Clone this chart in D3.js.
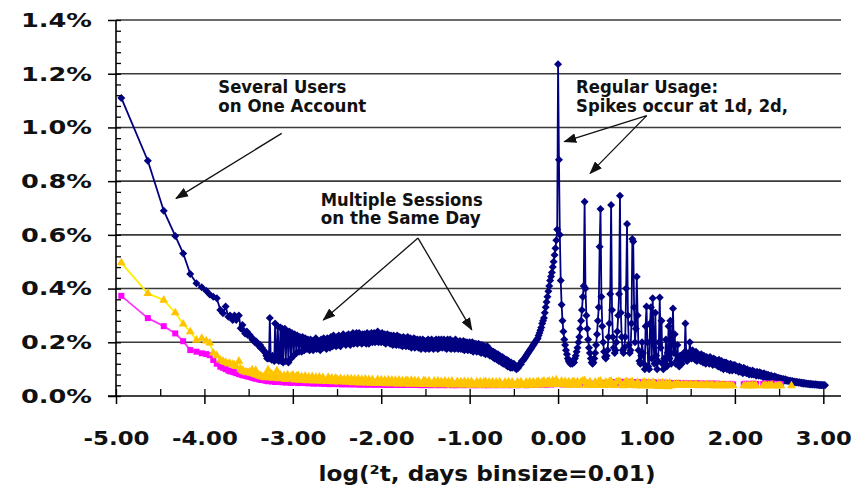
<!DOCTYPE html>
<html>
<head>
<meta charset="utf-8">
<script src="https://cdn.jsdelivr.net/npm/d3@7"></script>
<style>
  html, body { margin: 0; padding: 0; background: #fff; }
  svg { display: block; }
</style>
</head>
<body>
<svg id="chart" width="866" height="489"></svg>
<script>
// ---------------------------------------------------------------
// Inter-session time distribution, log10(Δt in days), bin size 0.01
// ---------------------------------------------------------------

// Bins below about -3.3 hold single whole seconds (1 s ... 42 s)
const secondBins = [-4.94, -4.64, -4.46, -4.33, -4.24, -4.16, -4.09, -4.03, -3.98, -3.94,
  -3.90, -3.86, -3.82, -3.79, -3.76, -3.73, -3.71, -3.68, -3.66, -3.64,
  -3.61, -3.59, -3.57, -3.56, -3.54, -3.52, -3.51, -3.49, -3.47, -3.46,
  -3.45, -3.43, -3.42, -3.41, -3.39, -3.38, -3.37, -3.36, -3.35, -3.33,
  -3.32, -3.31];

// share of sessions (%) in those bins
const navySeconds = [1.11, 0.876, 0.69, 0.596, 0.531, 0.454, 0.42, 0.405, 0.392, 0.378,
  0.37, 0.364, 0.32, 0.308, 0.333, 0.295, 0.30, 0.283, 0.30, 0.283,
  0.30, 0.252, 0.264, 0.245, 0.233, 0.24, 0.227, 0.228, 0.22, 0.212,
  0.208, 0.2, 0.205, 0.2, 0.19, 0.185, 0.19, 0.178, 0.18, 0.17,
  0.165, 0.16];
const magentaSeconds = [0.373, 0.29, 0.26, 0.233, 0.204, 0.171, 0.165, 0.159, 0.156, 0.152,
  0.134, 0.12, 0.109, 0.105, 0.1, 0.095, 0.092, 0.09, 0.088, 0.085,
  0.082, 0.08, 0.078, 0.077, 0.076, 0.074, 0.073, 0.072, 0.07, 0.069,
  0.068, 0.066, 0.065, 0.066, 0.063, 0.062, 0.063, 0.06, 0.061, 0.059,
  0.06, 0.058];
const yellowSeconds = [0.496, 0.382, 0.357, 0.31, 0.268, 0.239, 0.208, 0.215, 0.205, 0.198,
  0.16, 0.15, 0.134, 0.13, 0.125, 0.12, 0.121, 0.118, 0.115, 0.11,
  0.13, 0.1, 0.095, 0.092, 0.09, 0.088, 0.087, 0.09, 0.085, 0.097,
  0.083, 0.08, 0.095, 0.078, 0.077, 0.076, 0.075, 0.074, 0.072, 0.07,
  0.072, 0.068];

// Navy series, every 0.01 bin from -3.30 to 3.02
const navyFrom = -3.30, navyStep = 0.01;
const navyBins = [
  0.15, 0.14, 0.155, 0.14, 0.29, 0.145, 0.135, 0.15, 0.14, 0.13,        // -3.30
  0.27, 0.135, 0.14, 0.26, 0.13, 0.135, 0.255, 0.13, 0.25, 0.125,       // -3.20
  0.245, 0.25, 0.13, 0.24, 0.235, 0.125, 0.24, 0.23, 0.14, 0.235,       // -3.10
  0.225, 0.15, 0.23, 0.22, 0.16, 0.225, 0.21, 0.165, 0.22, 0.2,         // -3.00
  0.165, 0.22, 0.185, 0.17, 0.215, 0.2, 0.175, 0.21, 0.19, 0.17,        // -2.90
  0.21, 0.18, 0.205, 0.17, 0.2, 0.185, 0.215, 0.175, 0.205, 0.18,       // -2.80
  0.2, 0.17, 0.21, 0.185, 0.18, 0.215, 0.185, 0.205, 0.175, 0.215,      // -2.70
  0.19, 0.21, 0.18, 0.22, 0.195, 0.185, 0.225, 0.195, 0.21, 0.185,      // -2.60
  0.22, 0.19, 0.225, 0.2, 0.185, 0.22, 0.195, 0.23, 0.2, 0.215,         // -2.50
  0.19, 0.225, 0.2, 0.23, 0.205, 0.19, 0.225, 0.205, 0.235, 0.195,      // -2.40
  0.225, 0.2, 0.235, 0.195, 0.22, 0.235, 0.2, 0.225, 0.195, 0.23,       // -2.30
  0.2, 0.23, 0.21, 0.195, 0.235, 0.21, 0.195, 0.23, 0.205, 0.235,       // -2.20
  0.2, 0.225, 0.235, 0.2, 0.23, 0.205, 0.24, 0.2, 0.23, 0.21,           // -2.10
  0.2, 0.235, 0.205, 0.2, 0.23, 0.195, 0.225, 0.23, 0.2, 0.225,         // -2.00
  0.195, 0.225, 0.2, 0.19, 0.225, 0.195, 0.22, 0.19, 0.225, 0.195,      // -1.90
  0.19, 0.22, 0.19, 0.215, 0.185, 0.22, 0.19, 0.215, 0.185, 0.21,       // -1.80
  0.22, 0.185, 0.21, 0.215, 0.18, 0.21, 0.185, 0.215, 0.18, 0.21,       // -1.70
  0.185, 0.21, 0.18, 0.205, 0.21, 0.175, 0.205, 0.21, 0.18, 0.205,      // -1.60
  0.175, 0.205, 0.18, 0.21, 0.175, 0.205, 0.18, 0.21, 0.18, 0.175,      // -1.50
  0.205, 0.18, 0.21, 0.2, 0.175, 0.21, 0.18, 0.205, 0.21, 0.18,         // -1.40
  0.205, 0.21, 0.18, 0.2, 0.175, 0.21, 0.2, 0.18, 0.21, 0.175,          // -1.30
  0.205, 0.18, 0.2, 0.175, 0.21, 0.18, 0.2, 0.175, 0.185, 0.205,        // -1.20
  0.175, 0.2, 0.175, 0.205, 0.17, 0.2, 0.175, 0.2, 0.17, 0.195,         // -1.10
  0.2, 0.17, 0.195, 0.2, 0.165, 0.195, 0.17, 0.195, 0.165, 0.19,        // -1.00
  0.195, 0.165, 0.19, 0.16, 0.19, 0.165, 0.16, 0.185, 0.155, 0.18,      // -0.90
  0.185, 0.155, 0.175, 0.15, 0.17, 0.155, 0.145, 0.165, 0.14, 0.16,     // -0.80
  0.155, 0.135, 0.155, 0.13, 0.15, 0.13, 0.125, 0.145, 0.12, 0.14,      // -0.70
  0.135, 0.115, 0.135, 0.11, 0.13, 0.11, 0.105, 0.125, 0.105, 0.115,    // -0.60
  0.12, 0.105, 0.112, 0.1, 0.11, 0.105, 0.115, 0.12, 0.118, 0.13,       // -0.50
  0.13, 0.135, 0.14, 0.145, 0.15, 0.155, 0.16, 0.165, 0.17, 0.175,      // -0.40
  0.18, 0.185, 0.19, 0.195, 0.2, 0.205, 0.21, 0.215, 0.225, 0.235,      // -0.30
  0.245, 0.255, 0.27, 0.28, 0.29, 0.31, 0.33, 0.35, 0.37, 0.39,         // -0.20
  0.41, 0.43, 0.445, 0.46, 0.48, 0.5, 0.525, 0.55, 0.58, 0.62,          // -0.10
  1.235, 0.88, 0.6, 0.43, 0.34, 0.28, 0.24, 0.21, 0.19, 0.17,           //  0.00
  0.155, 0.14, 0.13, 0.125, 0.12, 0.125, 0.12, 0.13, 0.125, 0.14,       //  0.10
  0.15, 0.165, 0.18, 0.2, 0.22, 0.25, 0.28, 0.32, 0.37, 0.41,           //  0.20
  0.723, 0.4, 0.3, 0.25, 0.21, 0.18, 0.16, 0.14, 0.125, 0.12,           //  0.30
  0.125, 0.14, 0.16, 0.19, 0.23, 0.28, 0.33, 0.556, 0.696, 0.37,        //  0.40
  0.26, 0.2, 0.165, 0.145, 0.14, 0.15, 0.17, 0.22, 0.27, 0.38,          //  0.50
  0.711, 0.32, 0.22, 0.18, 0.16, 0.17, 0.2, 0.24, 0.3, 0.38,            //  0.60
  0.746, 0.31, 0.22, 0.17, 0.16, 0.18, 0.22, 0.4, 0.64, 0.3,            //  0.70
  0.19, 0.16, 0.17, 0.27, 0.585, 0.575, 0.33, 0.2, 0.25, 0.444,         //  0.80
  0.3, 0.17, 0.13, 0.12, 0.15, 0.2, 0.16, 0.12, 0.1, 0.26,              //  0.90
  0.333, 0.2, 0.11, 0.1, 0.27, 0.33, 0.14, 0.364, 0.2, 0.12,            //  1.00
  0.31, 0.15, 0.1, 0.13, 0.2, 0.367, 0.18, 0.28, 0.12, 0.1,             //  1.10
  0.14, 0.13, 0.21, 0.11, 0.16, 0.26, 0.14, 0.28, 0.12, 0.2,            //  1.20
  0.326, 0.16, 0.23, 0.12, 0.13, 0.19, 0.14, 0.11, 0.15, 0.13,          //  1.30
  0.12, 0.14, 0.16, 0.14, 0.27, 0.15, 0.13, 0.16, 0.14, 0.2,            //  1.40
  0.16, 0.14, 0.17, 0.145, 0.16, 0.135, 0.165, 0.13, 0.155, 0.14,       //  1.50
  0.15, 0.13, 0.155, 0.14, 0.125, 0.15, 0.14, 0.12, 0.145, 0.13,        //  1.60
  0.14, 0.12, 0.145, 0.125, 0.135, 0.115, 0.14, 0.12, 0.135, 0.115,     //  1.70
  0.13, 0.11, 0.135, 0.12, 0.105, 0.13, 0.115, 0.1, 0.125, 0.11,        //  1.80
  0.125, 0.1, 0.12, 0.11, 0.095, 0.12, 0.105, 0.095, 0.115, 0.1,        //  1.90
  0.115, 0.095, 0.11, 0.1, 0.09, 0.11, 0.09, 0.105, 0.095, 0.085,       //  2.00
  0.105, 0.09, 0.1, 0.085, 0.1, 0.09, 0.08, 0.095, 0.085, 0.08,         //  2.10
  0.095, 0.08, 0.09, 0.085, 0.075, 0.09, 0.08, 0.075, 0.088, 0.075,     //  2.20
  0.085, 0.075, 0.07, 0.085, 0.072, 0.07, 0.08, 0.066, 0.078, 0.07,     //  2.30
  0.066, 0.076, 0.065, 0.072, 0.062, 0.074, 0.062, 0.07, 0.06, 0.068,   //  2.40
  0.064, 0.066, 0.062, 0.064, 0.06, 0.063, 0.058, 0.062, 0.057, 0.06,   //  2.50
  0.056, 0.058, 0.055, 0.057, 0.053, 0.056, 0.052, 0.054, 0.05, 0.053,  //  2.60
  0.05, 0.052, 0.049, 0.051, 0.048, 0.05, 0.047, 0.049, 0.046, 0.048,   //  2.70
  0.046, 0.047, 0.045, 0.046, 0.044, 0.046, 0.043, 0.045, 0.043, 0.044, //  2.80
  0.042, 0.044, 0.042, 0.043, 0.041, 0.042, 0.04, 0.042, 0.04, 0.041,   //  2.90
  0.04, 0.041, 0.04                                                     //  3.00
];

// Magenta and yellow series, every other 0.01 bin from -3.30 (null = empty bin)
const pairFrom = -3.30, pairStep = 0.02;
const magentaBins = [
  0.057, 0.055, 0.062, 0.054, 0.056, 0.052, 0.058, 0.053, 0.055, 0.051, // -3.30
  0.054, 0.05, 0.053, 0.051, 0.049, 0.053, 0.05, 0.052, 0.048, 0.051,   // -3.10
  0.049, 0.051, 0.048, 0.05, 0.047, 0.049, 0.048, 0.046, 0.049, 0.047,  // -2.90
  0.048, 0.046, 0.048, 0.045, 0.047, 0.046, 0.044, 0.047, 0.045, 0.046, // -2.70
  0.044, 0.046, 0.045, 0.043, 0.046, 0.044, 0.045, 0.043, 0.045, 0.044, // -2.50
  0.043, 0.045, 0.044, 0.042, 0.045, 0.043, 0.044, 0.042, 0.044, 0.043, // -2.30
  0.044, 0.042, 0.043, 0.045, 0.042, 0.044, 0.043, 0.041, 0.044, 0.042, // -2.10
  0.043, 0.041, 0.044, 0.042, 0.043, 0.041, 0.042, 0.044, 0.041, 0.043, // -1.90
  0.042, 0.043, 0.041, 0.042, 0.044, 0.041, 0.043, 0.042, 0.04, 0.043,  // -1.70
  0.041, 0.043, 0.042, 0.04, 0.043, 0.041, 0.042, 0.04, 0.042, 0.041,   // -1.50
  0.042, 0.04, 0.043, 0.041, 0.042, 0.04, 0.041, 0.043, 0.04, 0.042,    // -1.30
  0.041, 0.043, 0.04, 0.042, 0.041, 0.043, 0.04, 0.042, 0.041, 0.04,    // -1.10
  0.042, 0.041, 0.043, 0.04, 0.042, 0.041, 0.04, 0.043, 0.041, 0.042,   // -0.90
  0.04, 0.042, 0.041, 0.043, 0.04, 0.042, 0.041, 0.043, 0.04, 0.042,    // -0.70
  0.041, 0.043, 0.04, 0.042, 0.041, 0.043, 0.042, 0.04, 0.043, 0.041,   // -0.50
  0.042, 0.044, 0.041, 0.043, 0.042, 0.044, 0.043, 0.045, 0.042, 0.044, // -0.30
  0.045, 0.043, 0.047, 0.044, 0.05, 0.046, 0.044, 0.046, 0.043, 0.045,  // -0.10
  0.044, 0.046, 0.043, 0.045, 0.047, 0.044, 0.046, 0.043, 0.045, 0.048, //  0.10
  0.05, 0.045, 0.043, 0.046, 0.044, 0.042, 0.045, 0.043, 0.047, 0.049,  //  0.30
  0.045, 0.048, 0.046, 0.05, 0.047, 0.052, 0.048, 0.051, 0.049, 0.053,  //  0.50
  0.05, 0.053, 0.048, 0.052, 0.05, 0.053, 0.049, 0.052, 0.05, 0.048,    //  0.70
  0.051, 0.049, 0.047, 0.05, 0.052, 0.048, 0.05, 0.047, 0.049, 0.051,   //  0.90
  0.048, 0.046, 0.049, 0.047, 0.05, 0.046, 0.048, 0.045, 0.049, 0.047,  //  1.10
  0.045, 0.048, 0.046, 0.049, 0.045, 0.047, 0.044, 0.048, 0.046, 0.045, //  1.30
  0.047, 0.044, 0.046, 0.048, 0.045, 0.043, 0.047, 0.045, 0.044, 0.046, //  1.50
  0.043, 0.045, 0.047, 0.044, 0.042, 0.046, 0.044, 0.043, 0.045, 0.042, //  1.70
  0.044, 0.045, 0.043, 0.045, 0.043, null, null, null, null, null,      //  1.90
  0.044, 0.046, 0.043, 0.045, 0.044, 0.046, 0.043, 0.045, null, null,   //  2.10
  null, 0.045, 0.047, 0.044, 0.046, 0.045, 0.047, null, 0.044, 0.043,   //  2.30
  0.045, 0.044, null, null, null, null, null, null, null                //  2.50
];
const yellowBins = [
  0.078, 0.097, 0.068, 0.082, 0.066, 0.078, 0.094, 0.064, 0.078, 0.067, // -3.30
  0.076, 0.062, 0.079, 0.064, 0.074, 0.078, 0.06, 0.073, 0.076, 0.059,  // -3.10
  0.072, 0.059, 0.074, 0.057, 0.07, 0.058, 0.072, 0.056, 0.069, 0.057,  // -2.90
  0.07, 0.055, 0.068, 0.056, 0.054, 0.069, 0.055, 0.067, 0.053, 0.066,  // -2.70
  0.064, 0.052, 0.066, 0.054, 0.063, 0.051, 0.065, 0.052, 0.064, 0.05,  // -2.50
  0.063, 0.051, 0.064, 0.049, 0.062, 0.05, 0.063, 0.049, 0.061, 0.048,  // -2.30
  0.061, 0.049, 0.047, 0.061, 0.048, 0.06, 0.047, 0.059, 0.046, 0.06,   // -2.10
  0.047, 0.059, 0.046, 0.058, 0.045, 0.059, 0.046, 0.057, 0.045, 0.058, // -1.90
  0.056, 0.044, 0.058, 0.045, 0.057, 0.044, 0.056, 0.045, 0.043, 0.057, // -1.70
  0.055, 0.043, 0.056, 0.044, 0.042, 0.055, 0.043, 0.056, 0.042, 0.054, // -1.50
  0.043, 0.055, 0.042, 0.054, 0.041, 0.055, 0.043, 0.042, 0.054, 0.041, // -1.30
  0.053, 0.042, 0.054, 0.041, 0.053, 0.04, 0.054, 0.042, 0.041, 0.053,  // -1.10
  0.041, 0.053, 0.04, 0.052, 0.054, 0.041, 0.052, 0.04, 0.053, 0.041,   // -0.90
  0.052, 0.04, 0.053, 0.041, 0.039, 0.052, 0.041, 0.053, 0.04, 0.052,   // -0.70
  0.041, 0.039, 0.052, 0.04, 0.053, 0.041, 0.039, 0.052, 0.04, 0.053,   // -0.50
  0.041, 0.053, 0.04, 0.052, 0.054, 0.041, 0.053, 0.055, 0.042, 0.054,  // -0.30
  0.055, 0.043, 0.057, 0.044, 0.06, 0.045, 0.043, 0.055, 0.042, 0.054,  // -0.10
  0.041, 0.053, 0.04, 0.052, 0.054, 0.041, 0.053, 0.04, 0.052, 0.055,   //  0.10
  0.057, 0.042, 0.04, 0.053, 0.041, 0.039, 0.052, 0.04, 0.054, 0.055,   //  0.30
  0.041, 0.039, 0.052, 0.04, 0.053, 0.055, 0.041, 0.039, 0.052, 0.054,  //  0.50
  0.053, 0.04, 0.038, 0.052, 0.054, 0.039, 0.051, 0.053, 0.04, 0.038,   //  0.70
  0.051, 0.039, 0.037, 0.05, 0.052, 0.038, 0.05, 0.037, 0.049, 0.051,   //  0.90
  0.038, 0.036, 0.049, 0.037, 0.05, 0.036, 0.048, 0.035, 0.049, 0.037,  //  1.10
  0.04, 0.043, 0.041, 0.044, 0.04, 0.042, 0.039, 0.043, 0.041, 0.04,    //  1.30
  0.042, 0.039, 0.041, 0.043, 0.04, 0.038, 0.042, 0.04, 0.039, 0.041,   //  1.50
  0.038, 0.04, 0.042, 0.039, 0.037, 0.041, 0.039, 0.038, 0.04, 0.037,   //  1.70
  0.039, 0.04, 0.038, 0.04, 0.038, null, null, null, null, null,        //  1.90
  0.038, 0.04, 0.037, 0.039, 0.038, 0.04, 0.037, 0.039, null, null,     //  2.10
  null, 0.038, 0.04, 0.037, 0.039, 0.038, 0.04, null, 0.038, 0.037,     //  2.30
  0.039, 0.038, null, null, null, null, null, 0.038, null               //  2.50
];

// Axis ticks
const yTicks = [0, 0.2, 0.4, 0.6, 0.8, 1.0, 1.2, 1.4];
const xTicks = [-5, -4, -3, -2, -1, 0, 1, 2, 3];
const xTitle = "log(\u00B2t, days binsize=0.01)";

// Callout texts, anchored in data units (log days, %)
const callouts = [
  { lines: ["Several Users", "on One Account"], at: [-3.843, 1.127] },
  { lines: ["Multiple Sessions", "on the Same Day"], at: [-2.684, 0.709] },
  { lines: ["Regular Usage:", "Spikes occur at 1d, 2d,"], at: [0.204, 1.127] }
];
const arrows = [
  [[-3.126, 0.978], [-4.321, 0.736]],
  [[-1.584, 0.588], [-2.655, 0.283]],
  [[-1.584, 0.588], [-0.976, 0.246]],
  [[1.003, 1.044], [0.071, 0.947]],
  [[1.003, 1.044], [0.362, 0.829]]
];

// ---------------------------------------------------------------
const FONT = "'DejaVu Sans', Verdana, sans-serif";
const svg = d3.select("#chart");

const x = d3.scaleLinear().domain([-5, 3.2]).range([116, 841]);
const y = d3.scaleLinear().domain([0, 1.4]).range([396, 20]);

// assemble point lists
const navy = secondBins.map((b, i) => ({ x: b, v: navySeconds[i] }))
  .concat(navyBins.map((v, i) => ({ x: navyFrom + i * navyStep, v })));
const magenta = secondBins.map((b, i) => ({ x: b, v: magentaSeconds[i] }))
  .concat(magentaBins.map((v, i) => ({ x: pairFrom + i * pairStep, v })));
const yellow = secondBins.map((b, i) => ({ x: b, v: yellowSeconds[i] }))
  .concat(yellowBins.map((v, i) => ({ x: pairFrom + i * pairStep, v })));

// horizontal grid lines
svg.append("g")
  .selectAll("line")
  .data(yTicks.filter(d => d > 0))
  .join("line")
  .attr("x1", x(-5)).attr("x2", x.range()[1])
  .attr("y1", d => y(d)).attr("y2", d => y(d))
  .attr("stroke", "#3a3a3a").attr("stroke-width", 1.6);

// series: line + markers
function drawSeries(points, o) {
  const g = svg.append("g");
  const line = d3.line()
    .defined(d => d.v != null)
    .x(d => x(d.x)).y(d => y(d.v));
  g.append("path")
    .datum(points)
    .attr("d", line)
    .attr("fill", "none")
    .attr("stroke", o.stroke)
    .attr("stroke-width", o.width)
    .attr("stroke-linejoin", "round");
  const sym = d3.symbol(o.symbol, o.size);
  g.selectAll("path.mk")
    .data(points.filter(d => d.v != null))
    .join("path")
    .attr("class", "mk")
    .attr("d", sym)
    .attr("transform", d => `translate(${x(d.x)},${y(d.v)}) rotate(${o.rotate || 0})`)
    .attr("fill", o.fill);
}

drawSeries(navy, { stroke: "#000080", width: 1.8, symbol: d3.symbolSquare, size: 32, rotate: 45, fill: "#000080" });
drawSeries(magenta, { stroke: "#ff33ff", width: 1.8, symbol: d3.symbolSquare, size: 36, fill: "#ff00ff" });
drawSeries(yellow, { stroke: "#ffee00", width: 1.8, symbol: d3.symbolTriangle, size: 34, fill: "#ffc400" });

// y axis: major ticks with labels, minor ticks inside
const gy = svg.append("g").attr("transform", `translate(${x(-5)},0)`)
  .call(d3.axisLeft(y).tickValues(yTicks).tickSize(8).tickSizeOuter(0).tickPadding(16)
    .tickFormat(d => d.toFixed(1) + "%"));
gy.select(".domain").remove();
gy.selectAll(".tick line").attr("stroke", "#000").attr("stroke-width", 1.5);
gy.selectAll(".tick text")
  .attr("font-family", FONT).attr("font-weight", "bold").attr("font-size", 20)
  .attr("fill", "#111")
  .attr("textLength", 71).attr("lengthAdjust", "spacingAndGlyphs");

const gyMinor = svg.append("g").attr("transform", `translate(${x(-5)},0)`)
  .call(d3.axisRight(y).tickValues(d3.range(0, 1.4001, 0.04)).tickSize(5).tickSizeOuter(0).tickFormat(""));
gyMinor.select(".domain").remove();
gyMinor.selectAll(".tick line").attr("stroke", "#000").attr("stroke-width", 1.3);

// x axis: major ticks below with labels, half-unit ticks inside
const gx = svg.append("g").attr("transform", `translate(0,${y(0)})`)
  .call(d3.axisBottom(x).tickValues(xTicks).tickSize(8).tickSizeOuter(0)
    .tickFormat(d => d.toFixed(2)));
gx.select(".domain").remove();
gx.selectAll(".tick line").attr("stroke", "#000").attr("stroke-width", 1.5);
gx.selectAll(".tick text")
  .attr("y", 49).attr("dy", 0)
  .attr("font-family", FONT).attr("font-weight", "bold").attr("font-size", 20)
  .attr("fill", "#111")
  .attr("textLength", d => d < 0 ? 66 : 56).attr("lengthAdjust", "spacingAndGlyphs");

const gxMinor = svg.append("g").attr("transform", `translate(0,${y(0)})`)
  .call(d3.axisTop(x).tickValues(d3.range(-5, 3.001, 0.5)).tickSize(7).tickSizeOuter(0).tickFormat(""));
gxMinor.select(".domain").remove();
gxMinor.selectAll(".tick line").attr("stroke", "#000").attr("stroke-width", 1.3);

// axis lines
svg.append("line")
  .attr("x1", x(-5)).attr("x2", x(-5)).attr("y1", y(1.4)).attr("y2", y(0))
  .attr("stroke", "#000").attr("stroke-width", 1.6);
svg.append("line")
  .attr("x1", x(-5) - 8).attr("x2", x.range()[1]).attr("y1", y(0)).attr("y2", y(0))
  .attr("stroke", "#000").attr("stroke-width", 1.6);

// axis title
svg.append("text")
  .attr("x", 487).attr("y", 481)
  .attr("text-anchor", "middle")
  .attr("font-family", FONT).attr("font-weight", "bold").attr("font-size", 21)
  .attr("fill", "#111")
  .attr("textLength", 337).attr("lengthAdjust", "spacingAndGlyphs")
  .text(xTitle);

// callouts
svg.append("defs").append("marker")
  .attr("id", "head")
  .attr("viewBox", "0 0 12 9")
  .attr("markerUnits", "userSpaceOnUse")
  .attr("markerWidth", 13).attr("markerHeight", 10)
  .attr("refX", 11).attr("refY", 4.5)
  .attr("orient", "auto")
  .append("path").attr("d", "M0,0 L12,4.5 L0,9 Z").attr("fill", "#111");

svg.append("g").selectAll("line")
  .data(arrows)
  .join("line")
  .attr("x1", d => x(d[0][0])).attr("y1", d => y(d[0][1]))
  .attr("x2", d => x(d[1][0])).attr("y2", d => y(d[1][1]))
  .attr("stroke", "#111").attr("stroke-width", 1.3)
  .attr("marker-end", "url(#head)");

const noteWidths = [[128, 148], [162, 160], [142, 212]];
callouts.forEach((c, k) => {
  const t = svg.append("text")
    .attr("font-family", FONT).attr("font-weight", "bold").attr("font-size", 17)
    .attr("fill", "#111");
  c.lines.forEach((ln, j) => {
    t.append("tspan")
      .attr("x", x(c.at[0])).attr("y", y(c.at[1]) + j * 18.8)
      .attr("textLength", noteWidths[k][j]).attr("lengthAdjust", "spacingAndGlyphs")
      .text(ln);
  });
});
</script>
</body>
</html>
